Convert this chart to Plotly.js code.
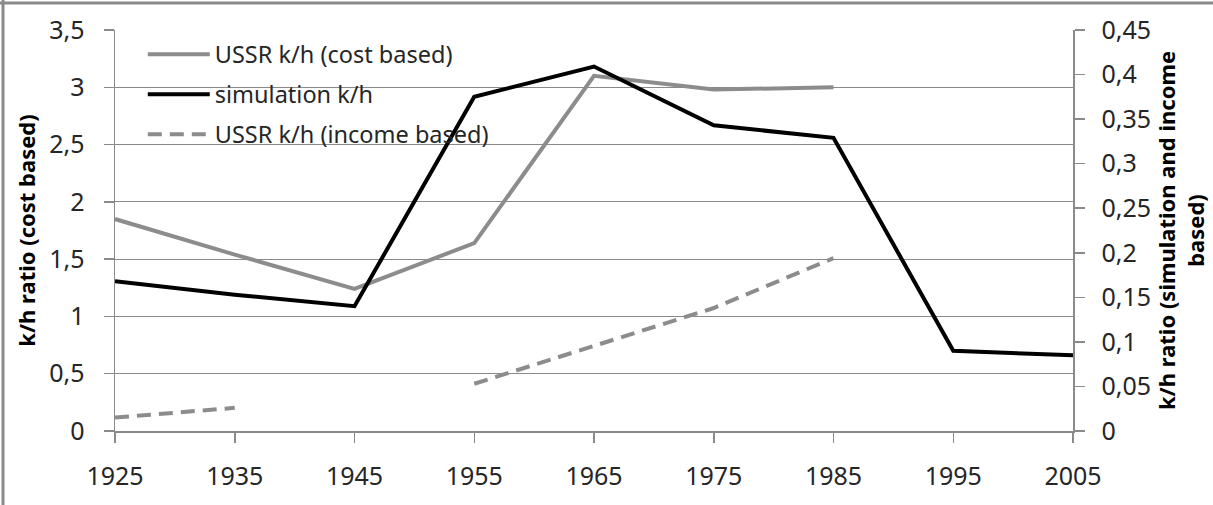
<!DOCTYPE html>
<html>
<head>
<meta charset="utf-8">
<script src="https://cdn.plot.ly/plotly-3.0.1.min.js"></script>
<style>html,body{margin:0;padding:0;background:#fff}#chart{width:1213px;height:505px}</style>
</head>
<body>
<div id="chart"></div>
<script>
// ---- data ----
const years = [1925, 1935, 1945, 1955, 1965, 1975, 1985, 1995, 2005];
const costBased = [1.85, 1.54, 1.24, 1.64, 3.10, 2.98, 3.00, null, null];
const simulation = [0.168, 0.153, 0.140, 0.375, 0.409, 0.343, 0.329, 0.090, 0.085];
const incomeBased = [0.015, 0.026, null, 0.053, 0.095, 0.138, 0.194, null, null];

const seriesNames = ['USSR k/h (cost based)', 'simulation k/h', 'USSR k/h (income based)'];
const xTickVals = [1925, 1935, 1945, 1955, 1965, 1975, 1985, 1995, 2005];
const xTickText = ['1925', '1935', '1945', '1955', '1965', '1975', '1985', '1995', '2005'];
const yTickVals = [0, 0.5, 1, 1.5, 2, 2.5, 3, 3.5];
const yTickText = ['0', '0,5', '1', '1,5', '2', '2,5', '3', '3,5'];
const y2TickVals = [0, 0.05, 0.1, 0.15, 0.2, 0.25, 0.3, 0.35, 0.4, 0.45];
const y2TickText = ['0', '0,05', '0,1', '0,15', '0,2', '0,25', '0,3', '0,35', '0,4', '0,45'];
const yTitle = 'k/h ratio (cost based)';
const y2Title = 'k/h ratio (simulation and income<br>based)';

// ---- styles ----
const grey = '#8c8c8c';
const axisGrey = '#8a8a8a';
const font = 'Noto Sans, Open Sans, DejaVu Sans, sans-serif';
const tickSize = 25;

const traces = [
  {x: years, y: costBased, name: seriesNames[0], type: 'scatter', mode: 'lines',
   line: {color: grey, width: 4}, yaxis: 'y', legendgroup: 'a', connectgaps: false},
  {x: years, y: simulation, name: seriesNames[1], type: 'scatter', mode: 'lines',
   line: {color: '#000000', width: 4}, yaxis: 'y2', legendgroup: 'b', connectgaps: false},
  {x: years, y: incomeBased, name: seriesNames[2], type: 'scatter', mode: 'lines',
   line: {color: grey, width: 4, dash: '14px,8px'}, yaxis: 'y2', legendgroup: 'c', connectgaps: false}
];

const layout = {
  width: 1213, height: 505,
  margin: {l: 115, r: 140, t: 30, b: 74, pad: 0},
  paper_bgcolor: '#ffffff', plot_bgcolor: '#ffffff',
  font: {family: font, size: 23, color: '#262626'},
  showlegend: true,
  legend: {x: 0.029, y: 0.994, xanchor: 'left', yanchor: 'top', bgcolor: 'rgba(0,0,0,0)',
           itemwidth: 62,
           font: {family: font, size: 23.5, color: '#262626'}, tracegroupgap: 6.5, traceorder: 'grouped'},
  xaxis: {range: [1925, 2005], tickvals: xTickVals, ticktext: xTickText,
          showgrid: false, zeroline: false, showline: true, linecolor: axisGrey, linewidth: 1.5,
          ticks: 'outside', ticklen: 10, tickcolor: axisGrey, tickwidth: 1.5,
          ticklabelstandoff: 12, tickfont: {family: font, size: tickSize, color: '#262626'}},
  yaxis: {range: [0, 3.5], tickvals: yTickVals, ticktext: yTickText,
          showgrid: true, gridcolor: axisGrey, gridwidth: 1.2, zeroline: false,
          showline: true, linecolor: axisGrey, linewidth: 1.5,
          ticks: 'outside', ticklen: 10, tickcolor: axisGrey, tickwidth: 1.5,
          ticklabelstandoff: 14, tickfont: {family: font, size: tickSize, color: '#262626'},
          title: {text: yTitle, font: {family: font, size: 22, color: '#000', weight: 'bold'}, standoff: 7}},
  yaxis2: {range: [0, 0.45], tickvals: y2TickVals, ticktext: y2TickText,
           overlaying: 'y', side: 'right', showgrid: false, zeroline: false,
           showline: true, linecolor: axisGrey, linewidth: 1.5,
           ticks: 'outside', ticklen: 10, tickcolor: axisGrey, tickwidth: 1.5,
           ticklabelstandoff: 12, tickfont: {family: font, size: tickSize, color: '#262626'},
           title: {text: y2Title, font: {family: font, size: 22, color: '#000', weight: 'bold'}, standoff: 6}},
  shapes: [
    {type: 'line', xref: 'paper', yref: 'paper', x0: -0.125, x1: 1.15, y0: 1.0673, y1: 1.0673,
     line: {color: '#8a8a8a', width: 3}},
    {type: 'line', xref: 'paper', yref: 'paper', x0: -0.1169, x1: -0.1169, y0: 1.08, y1: -0.19,
     line: {color: '#8a8a8a', width: 3}}
  ]
};

Plotly.newPlot('chart', traces, layout, {displayModeBar: false, staticPlot: true});
</script>
</body>
</html>
